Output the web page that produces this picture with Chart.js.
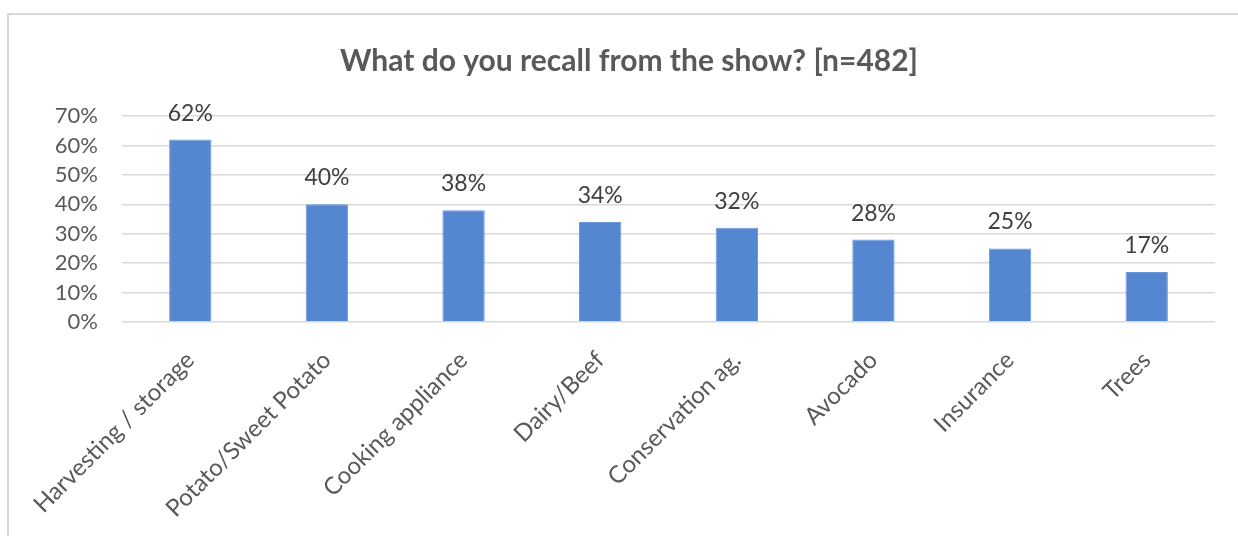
<!DOCTYPE html>
<html>
<head>
<meta charset="utf-8">
<script src="https://cdn.jsdelivr.net/npm/chart.js@4"></script>
<style>
  body { margin: 0; background: #fff; }
  #wrap { position: relative; width: 1238px; height: 536px; overflow: hidden; }
  #frame {
    position: absolute; left: 7px; top: 13px; width: 1300px; height: 700px;
    border-left: 2px solid #d9d9d9; border-top: 2px solid #d9d9d9;
  }
  #chart { position: absolute; left: 0; top: 0; }
</style>
</head>
<body>
<div id="wrap">
  <div id="frame"></div>
  <canvas id="chart" width="1238" height="536"></canvas>
</div>
<script>
// recall survey – share of respondents per topic
const topics = ['Harvesting / storage', 'Potato/Sweet Potato', 'Cooking appliance', 'Dairy/Beef',
                'Conservation ag.', 'Avocado', 'Insurance', 'Trees'];
const recallPct = [62, 40, 38, 34, 32, 28, 25, 17];
const yTicks = [0, 10, 20, 30, 40, 50, 60, 70];

const FONT = 'Lato, "Open Sans", sans-serif';

// value labels above each bar
const barLabels = {
  id: 'barLabels',
  afterDatasetsDraw(chart) {
    const ctx = chart.ctx;
    const meta = chart.getDatasetMeta(0);
    ctx.save();
    ctx.font = '23px ' + FONT;
    ctx.fillStyle = '#404040';
    ctx.textAlign = 'center';
    ctx.textBaseline = 'alphabetic';
    meta.data.forEach((bar, i) => {
      ctx.fillText(recallPct[i] + '%', bar.x, bar.y - 19);
    });
    ctx.restore();
  }
};

new Chart(document.getElementById('chart'), {
  type: 'bar',
  data: {
    labels: topics,
    datasets: [{
      data: recallPct,
      backgroundColor: '#5586d0',
      borderColor: '#6a97da',
      borderWidth: 1,
      barPercentage: 0.31,
      categoryPercentage: 1
    }]
  },
  options: {
    responsive: false,
    animation: false,
    layout: { padding: { left: 43, right: 23, top: 13, bottom: 0 } },
    plugins: {
      legend: { display: false },
      tooltip: { enabled: false },
      title: {
        display: true,
        text: 'What do you recall from the show? [n=482]',
        color: '#595959',
        font: { family: FONT, size: 30, weight: 'bold' },
        padding: { top: 30, bottom: 37 }
      }
    },
    scales: {
      x: {
        grid: { display: false },
        border: { display: false },
        ticks: {
          color: '#595959',
          font: { family: FONT, size: 24 },
          minRotation: 45,
          maxRotation: 45,
          padding: 16
        },
        afterFit(scale) { scale.height = 214; }
      },
      y: {
        min: 0,
        max: 70,
        afterBuildTicks(scale) { scale.ticks = yTicks.map(v => ({ value: v })); },
        grid: { color: '#d9d9d9', lineWidth: 1.5, drawTicks: false },
        border: { display: false },
        ticks: {
          color: '#595959',
          font: { family: FONT, size: 22 },
          padding: 24,
          callback: v => v + '%'
        },
        afterFit(scale) { scale.width = 79; }
      }
    }
  },
  plugins: [barLabels]
});
</script>
</body>
</html>
